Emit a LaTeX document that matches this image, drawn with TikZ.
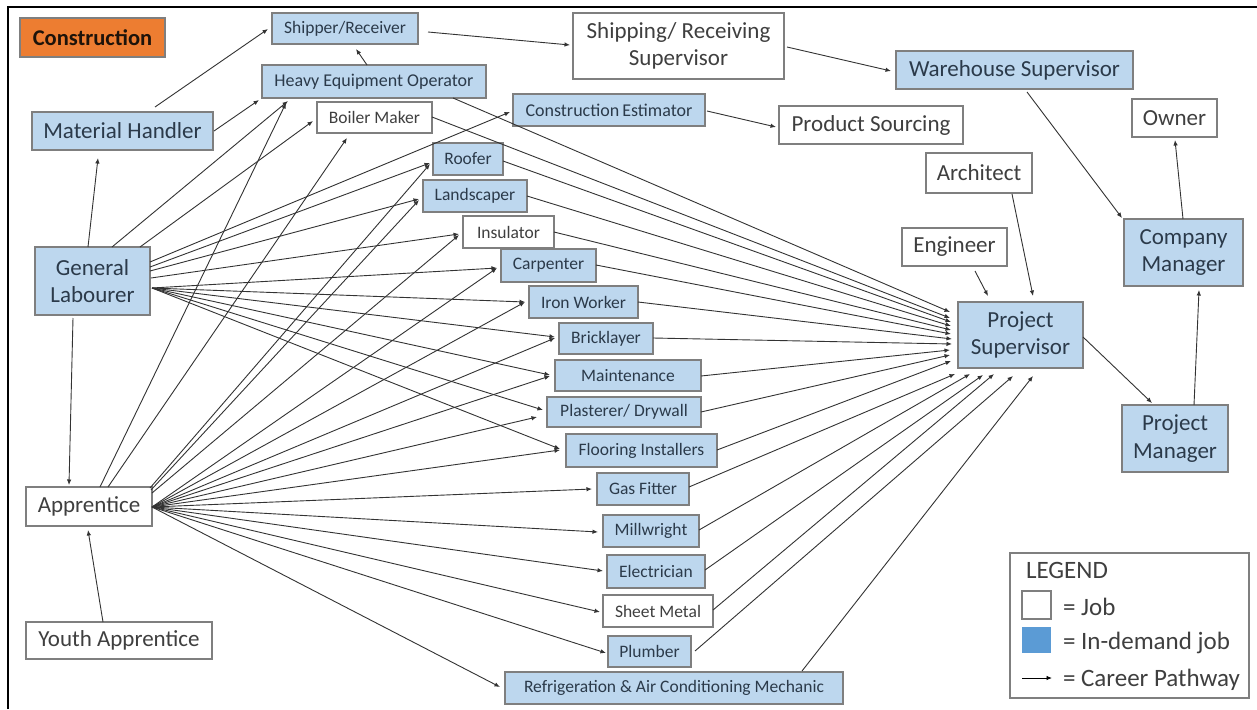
\documentclass[tikz,border=0pt]{standalone}
\usepackage{fontspec}
\setmainfont{Carlito}
\usetikzlibrary{arrows.meta,calc}
\definecolor{boxblue}{HTML}{BDD7EE}
\definecolor{boxline}{HTML}{7F7F7F}
\definecolor{txtblue}{HTML}{2B3A4A}
\definecolor{txtgray}{HTML}{3F3F3F}
\definecolor{linecol}{HTML}{333333}
\definecolor{orangebox}{HTML}{ED7D31}
\definecolor{legblue}{HTML}{5B9BD5}
\newcommand\myarrow[6]{\draw[arr] ($(#1.north west)+(#2,#3)$) -- ($(#4.north west)+(#5,#6)$);}
\begin{document}
\begin{tikzpicture}[x=1pt,y=-1pt,
  box/.style={draw=boxline, line width=1.3pt, inner sep=0pt, outer sep=0pt, font=\fontsize{17.5}{21}\selectfont},
  jb/.style={box, fill=white, text=txtgray},
  ib/.style={box, fill=boxblue, text=txtblue},
  big/.style={font=\fontsize{23}{27.5}\selectfont},
  arr/.style={draw=linecol, line width=0.9pt, -{Latex[length=5.5pt,width=4.5pt]}},
  legtext/.style={inner sep=0pt, outer sep=0pt, anchor=west, text=txtgray, font=\fontsize{25}{29}\selectfont}
]
\useasboundingbox (0,0) rectangle (1257,709);
\fill[white] (0,0) rectangle (1257,709);
\draw[line width=2pt, black] (8,709) -- (8,7) -- (1257,7);

% nodes
\node[box, fill=orangebox, draw=boxline, text=black!85!brown, font=\bfseries\fontsize{22.5}{26}\selectfont, minimum width=145pt, minimum height=39pt] (con) at (92.5,37.5) {Construction};
\node[ib, minimum width=146pt, minimum height=31pt] (ship) at (345,28.5) {Shipper/Receiver};
\node[ib, font=\fontsize{18}{21}\selectfont, minimum width=224pt, minimum height=33pt] (heo) at (374,81.5) {Heavy Equipment Operator};
\node[jb, minimum width=115pt, minimum height=31pt] (boil) at (374.5,117.5) {Boiler Maker};
\node[ib, big, minimum width=181pt, minimum height=38pt] (mh) at (122.5,131) {Material Handler};
\node[ib, minimum width=70pt, minimum height=32pt] (roof) at (468,159) {Roofer};
\node[ib, minimum width=104pt, minimum height=32pt] (land) at (475,196) {Landscaper};
\node[jb, minimum width=91pt, minimum height=32pt] (ins) at (508.5,232) {Insulator};
\node[jb, big, align=center, minimum width=211pt, minimum height=66pt] (srs) at (678.5,46) {Shipping/ Receiving\\Supervisor};
\node[ib, font=\fontsize{18}{21}\selectfont, minimum width=192pt, minimum height=32pt] (ce) at (609,110) {Construction\hspace{3pt}Estimator};
\node[jb, big, minimum width=184pt, minimum height=38pt] (psrc) at (871,125) {Product Sourcing};
\node[ib, big, minimum width=237pt, minimum height=38pt] (ws) at (1014.5,70) {Warehouse Supervisor};
\node[jb, big, minimum width=85pt, minimum height=38pt] (own) at (1174.5,118) {Owner};
\node[jb, big, minimum width=106pt, minimum height=40pt] (arch) at (979,173) {Architect};
\node[ib, big, align=center, minimum width=119pt, minimum height=67pt] (cm) at (1183.5,252.5) {Company\\Manager};
\node[jb, big, minimum width=105pt, minimum height=38pt] (eng) at (954.5,247) {Engineer};
\node[ib, big, align=center, minimum width=125pt, minimum height=66pt] (ps) at (1020.5,335) {Project\\Supervisor};
\node[ib, big, align=center, minimum width=106pt, minimum height=67pt] (pm) at (1175,438.5) {Project\\Manager};
\node[ib, big, align=center, minimum width=115pt, minimum height=68pt] (gl) at (92.5,281) {General\\Labourer};
\node[ib, minimum width=95pt, minimum height=33pt] (carp) at (548.5,265.5) {Carpenter};
\node[ib, minimum width=109pt, minimum height=32pt] (iron) at (583.5,302) {Iron Worker};
\node[ib, minimum width=94pt, minimum height=31pt] (brick) at (606,338.5) {Bricklayer};
\node[ib, minimum width=146pt, minimum height=31pt] (maint) at (628,375.5) {Maintenance\hspace{32pt}};
\node[ib, minimum width=154pt, minimum height=30pt] (plas) at (624,412) {Plasterer/ Drywall};
\node[ib, minimum width=151pt, minimum height=33pt] (floor) at (641.5,450.5) {Flooring Installers};
\node[ib, minimum width=92pt, minimum height=32pt] (gas) at (643,489) {Gas Fitter};
\node[ib, minimum width=96pt, minimum height=32pt] (mill) at (651,531) {Millwright};
\node[ib, minimum width=98pt, minimum height=33pt] (elec) at (656,571.5) {Electrician};
\node[jb, minimum width=110pt, minimum height=32pt] (sheet) at (658,611) {Sheet Metal};
\node[ib, minimum width=83pt, minimum height=31pt] (plumb) at (649.5,651.5) {Plumber};
\node[ib, minimum width=338pt, minimum height=32pt] (refr) at (674,688) {Refrigeration \& Air Conditioning Mechanic};
\node[jb, big, minimum width=126pt, minimum height=39pt] (app) at (89,506.5) {Apprentice};
\node[jb, big, minimum width=186pt, minimum height=37pt] (youth) at (119,640.5) {Youth Apprentice};

% legend
\node[draw=boxline, line width=1.3pt, fill=white, minimum width=239pt, minimum height=145pt, inner sep=0pt, outer sep=0pt] (leg) at (1129.5,625.5) {};
\node[legtext] (legt) at (1026,570) {LEGEND};
\node[draw=boxline, line width=1.3pt, fill=white, minimum width=29pt, minimum height=28pt, inner sep=0pt, outer sep=0pt] (legw) at (1036.5,605) {};
\node[fill=legblue, minimum width=29pt, minimum height=26pt, inner sep=0pt, outer sep=0pt] (legb) at (1036.5,640) {};
\node[legtext] (legjob) at (1063,607) {= Job};
\node[legtext] (legin) at (1063,643) {= In-demand job};
\node[legtext] (legcp) at (1063,680) {= Career Pathway};
\coordinate (la) at (1022,678);
\coordinate (lb) at (1052,678);
\draw[arr, black] (la) -- (lb);

% simple pathways
\myarrow{gl}{53}{0}{mh}{66}{46}
\myarrow{gl}{38}{71}{app}{43}{-2}
\myarrow{youth}{77}{0}{app}{62}{43}
\myarrow{mh}{123}{-5}{ship}{-4}{16}
\myarrow{mh}{182}{19}{heo}{-3}{35}
\myarrow{heo}{105}{0}{ship}{84}{36}
\myarrow{ship}{156}{19}{srs}{-3}{32}
\myarrow{srs}{214}{34}{ws}{-5}{20}
\myarrow{ce}{194}{17}{psrc}{-3}{21}
\myarrow{ws}{131}{41}{cm}{-2}{-1}
\myarrow{cm}{59}{0}{own}{43}{41}
\myarrow{arch}{86}{41}{ps}{75}{-6}
\myarrow{eng}{73}{43}{ps}{30}{-6}
\myarrow{ps}{125}{35}{pm}{30}{-2}
\myarrow{pm}{72}{0}{cm}{75}{71}

% general labourer
\myarrow{gl}{77}{0}{heo}{26}{36}
\myarrow{gl}{105}{0}{boil}{-4}{19}
\myarrow{gl}{115}{15}{ce}{-3}{18}
\myarrow{gl}{115}{20}{roof}{-3}{20}
\myarrow{gl}{115}{24}{land}{-4}{19}
\myarrow{gl}{116}{31}{ins}{-4}{18}
\myarrow{gl}{117}{41}{carp}{-4}{19}
\myarrow{gl}{117}{41}{iron}{-4}{16}
\myarrow{gl}{117}{41}{brick}{-4}{14}
\myarrow{gl}{117}{41}{maint}{-5}{15}
\myarrow{gl}{117}{41}{plas}{-4}{13}
\myarrow{gl}{117}{41}{floor}{-6}{15}

% apprentice
\myarrow{app}{74}{0}{heo}{24}{38}
\myarrow{app}{82}{0}{boil}{30}{36}
\myarrow{app}{124}{1}{roof}{-3}{21}
\myarrow{app}{125}{3}{land}{-4}{20}
\myarrow{app}{126}{6}{ins}{-4}{19}
\myarrow{app}{126}{20}{carp}{-4}{19}
\myarrow{app}{126}{20}{iron}{-4}{16}
\myarrow{app}{126}{20}{brick}{-4}{15}
\myarrow{app}{126}{20}{maint}{-5}{16}
\myarrow{app}{126}{20}{plas}{-10}{20}
\myarrow{app}{126}{20}{floor}{-6}{16}
\myarrow{app}{126}{20}{gas}{-5}{16}
\myarrow{app}{126}{20}{mill}{-5}{17}
\myarrow{app}{126}{20}{elec}{-4}{16}
\myarrow{app}{126}{20}{sheet}{-3}{17}
\myarrow{app}{126}{20}{plumb}{-2}{17}
\myarrow{app}{126}{20}{refr}{-5}{15}

% trades to project supervisor
\myarrow{heo}{191}{33}{ps}{-8}{10}
\myarrow{boil}{115}{15}{ps}{-8}{16}
\myarrow{roof}{70}{18}{ps}{-7}{20}
\myarrow{land}{104}{16}{ps}{-7}{24}
\myarrow{ins}{91}{16}{ps}{-7}{28}
\myarrow{carp}{95}{16}{ps}{-7}{32}
\myarrow{iron}{109}{16}{ps}{-6}{37}
\myarrow{brick}{94}{15}{ps}{-6}{42}
\myarrow{maint}{146}{16}{ps}{-8}{48}
\myarrow{plas}{154}{15}{ps}{-8}{53}
\myarrow{floor}{151}{16}{ps}{-7}{59}
\myarrow{gas}{92}{14}{ps}{-3}{72}
\myarrow{mill}{96}{15}{ps}{12}{72}
\myarrow{elec}{98}{15}{ps}{25}{73}
\myarrow{sheet}{110}{15}{ps}{36}{72}
\myarrow{plumb}{87}{15}{ps}{55}{74}
\myarrow{refr}{297}{-1}{ps}{75}{74}
\end{tikzpicture}
\end{document}
